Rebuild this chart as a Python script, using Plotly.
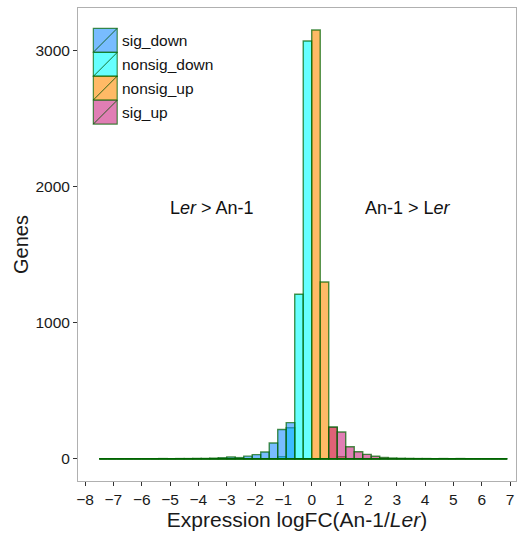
import plotly.graph_objects as go

# Histogram bins (left edges), width 0.3
bin_left = [-7.5, -7.2, -6.9, -6.6, -6.3, -6.0, -5.7, -5.4, -5.1, -4.8,
            -4.5, -4.2, -3.9, -3.6, -3.3, -3.0, -2.7, -2.4, -2.1, -1.8,
            -1.5, -1.2, -0.9, -0.6, -0.3, 0.0, 0.3, 0.6, 0.9, 1.2,
            1.5, 1.8, 2.1, 2.4, 2.7, 3.0, 3.3, 3.6, 3.9, 4.2,
            4.5, 4.8, 5.1, 5.4, 5.7, 6.0, 6.3, 6.6]
bin_width = 0.3

groups = ["sig_down", "nonsig_down", "nonsig_up", "sig_up"]

sig_down = [0, 0, 0, 0, 0, 0, 0, 1, 0, 1,
            1, 2, 2, 4, 7, 12, 8, 19, 30, 49,
            115, 215, 265, 0, 0, 0, 0, 0, 0, 0,
            0, 0, 0, 0, 0, 0, 0, 0, 0, 0,
            0, 0, 0, 0, 0, 0, 0, 0]
nonsig_down = [0, 0, 0, 0, 0, 0, 0, 0, 0, 0,
               0, 0, 0, 0, 0, 0, 0, 0, 0, 0,
               0, 15, 228, 1209, 3071, 0, 0, 0, 0, 0,
               0, 0, 0, 0, 0, 0, 0, 0, 0, 0,
               0, 0, 0, 0, 0, 0, 0, 0]
nonsig_up = [0, 0, 0, 0, 0, 0, 0, 0, 0, 0,
             0, 0, 0, 0, 0, 0, 0, 0, 0, 0,
             0, 0, 0, 0, 0, 3152, 1299, 230, 15, 0,
             0, 0, 0, 0, 0, 0, 0, 0, 0, 0,
             0, 0, 0, 0, 0, 0, 0, 0]
sig_up = [0, 0, 0, 0, 0, 0, 0, 0, 0, 0,
          0, 0, 0, 0, 0, 0, 0, 0, 0, 0,
          0, 0, 0, 0, 0, 0, 0, 233, 196, 88,
          51, 32, 18, 9, 5, 3, 2, 1, 1, 0,
          1, 0, 1, 0, 0, 0, 0, 0]

x_ticks = list(range(-8, 8))
y_ticks = [0, 1000, 2000, 3000]

fills = {
    "sig_down": "rgba(30,144,255,0.6)",
    "nonsig_down": "rgba(0,255,255,0.6)",
    "nonsig_up": "rgba(255,140,0,0.6)",
    "sig_up": "rgba(204,40,130,0.6)",
}
outline = "rgba(0,100,0,0.7)"

series = {"sig_down": sig_down, "nonsig_down": nonsig_down,
          "nonsig_up": nonsig_up, "sig_up": sig_up}
centers = [b + bin_width / 2 for b in bin_left]

fig = go.Figure()
# baseline of zero-count bins
fig.add_trace(go.Scatter(x=[bin_left[0], bin_left[-1] + bin_width], y=[0, 0],
                         mode="lines", line=dict(color=outline, width=1.5),
                         showlegend=False, hoverinfo="skip"))
for g in ["nonsig_down", "nonsig_up", "sig_down", "sig_up"]:
    fig.add_trace(go.Bar(x=centers, y=series[g], width=bin_width, name=g,
                         marker=dict(color=fills[g], line=dict(color=outline, width=1.4)),
                         showlegend=False))

fig.update_layout(
    width=518, height=536,
    margin=dict(l=78, r=2, t=8, b=55),
    barmode="overlay",
    plot_bgcolor="white", paper_bgcolor="white",
    font=dict(family="Liberation Sans, Arial, sans-serif", color="#1a1a1a"),
    showlegend=False,
)
fig.update_xaxes(range=[-8.25, 7.21], tickvals=x_ticks,
                 ticktext=[("\u2212" + str(-t)) if t < 0 else str(t) for t in x_ticks],
                 showgrid=False, zeroline=False, showline=True, linecolor="#b0b0b0",
                 linewidth=1, mirror=True, ticks="outside", ticklen=4, tickcolor="#333333",
                 tickfont=dict(size=15.5),
                 title=dict(text="Expression logFC(An-1/<i>Ler</i>)", font=dict(size=21), standoff=4))
fig.update_yaxes(range=[-164, 3314], tickvals=y_ticks,
                 showgrid=False, zeroline=False, showline=True, linecolor="#b0b0b0",
                 linewidth=1, mirror=True, ticks="outside", ticklen=4, tickcolor="#333333",
                 tickfont=dict(size=15.5),
                 title=dict(text="Genes", font=dict(size=20), standoff=1))

fig.add_annotation(x=-3.52, y=1843, text="L<i>er</i> &gt; An-1", showarrow=False,
                   font=dict(size=18, color="#111111"))
fig.add_annotation(x=3.4, y=1843, text="An-1 &gt; L<i>er</i>", showarrow=False,
                   font=dict(size=18, color="#111111"))

# manual legend (ggplot-style keys with diagonal)
key_x0, key_x1 = 0.035, 0.0895
key_tops = [0.957, 0.906, 0.856, 0.805]
key_h = 0.0505
for g, top in zip(groups, key_tops):
    bot = top - key_h
    fig.add_shape(type="rect", xref="paper", yref="paper", x0=key_x0, x1=key_x1,
                  y0=bot, y1=top, fillcolor=fills[g], line=dict(color=outline, width=1.2))
    fig.add_shape(type="line", xref="paper", yref="paper", x0=key_x0, x1=key_x1,
                  y0=bot, y1=top, line=dict(color="rgba(0,80,0,0.8)", width=1))
    fig.add_annotation(xref="paper", yref="paper", x=0.096, y=(top + bot) / 2,
                       text=g, showarrow=False, xanchor="left", yanchor="middle",
                       font=dict(size=15.5, color="#111111"))

fig.write_html("out.html")
